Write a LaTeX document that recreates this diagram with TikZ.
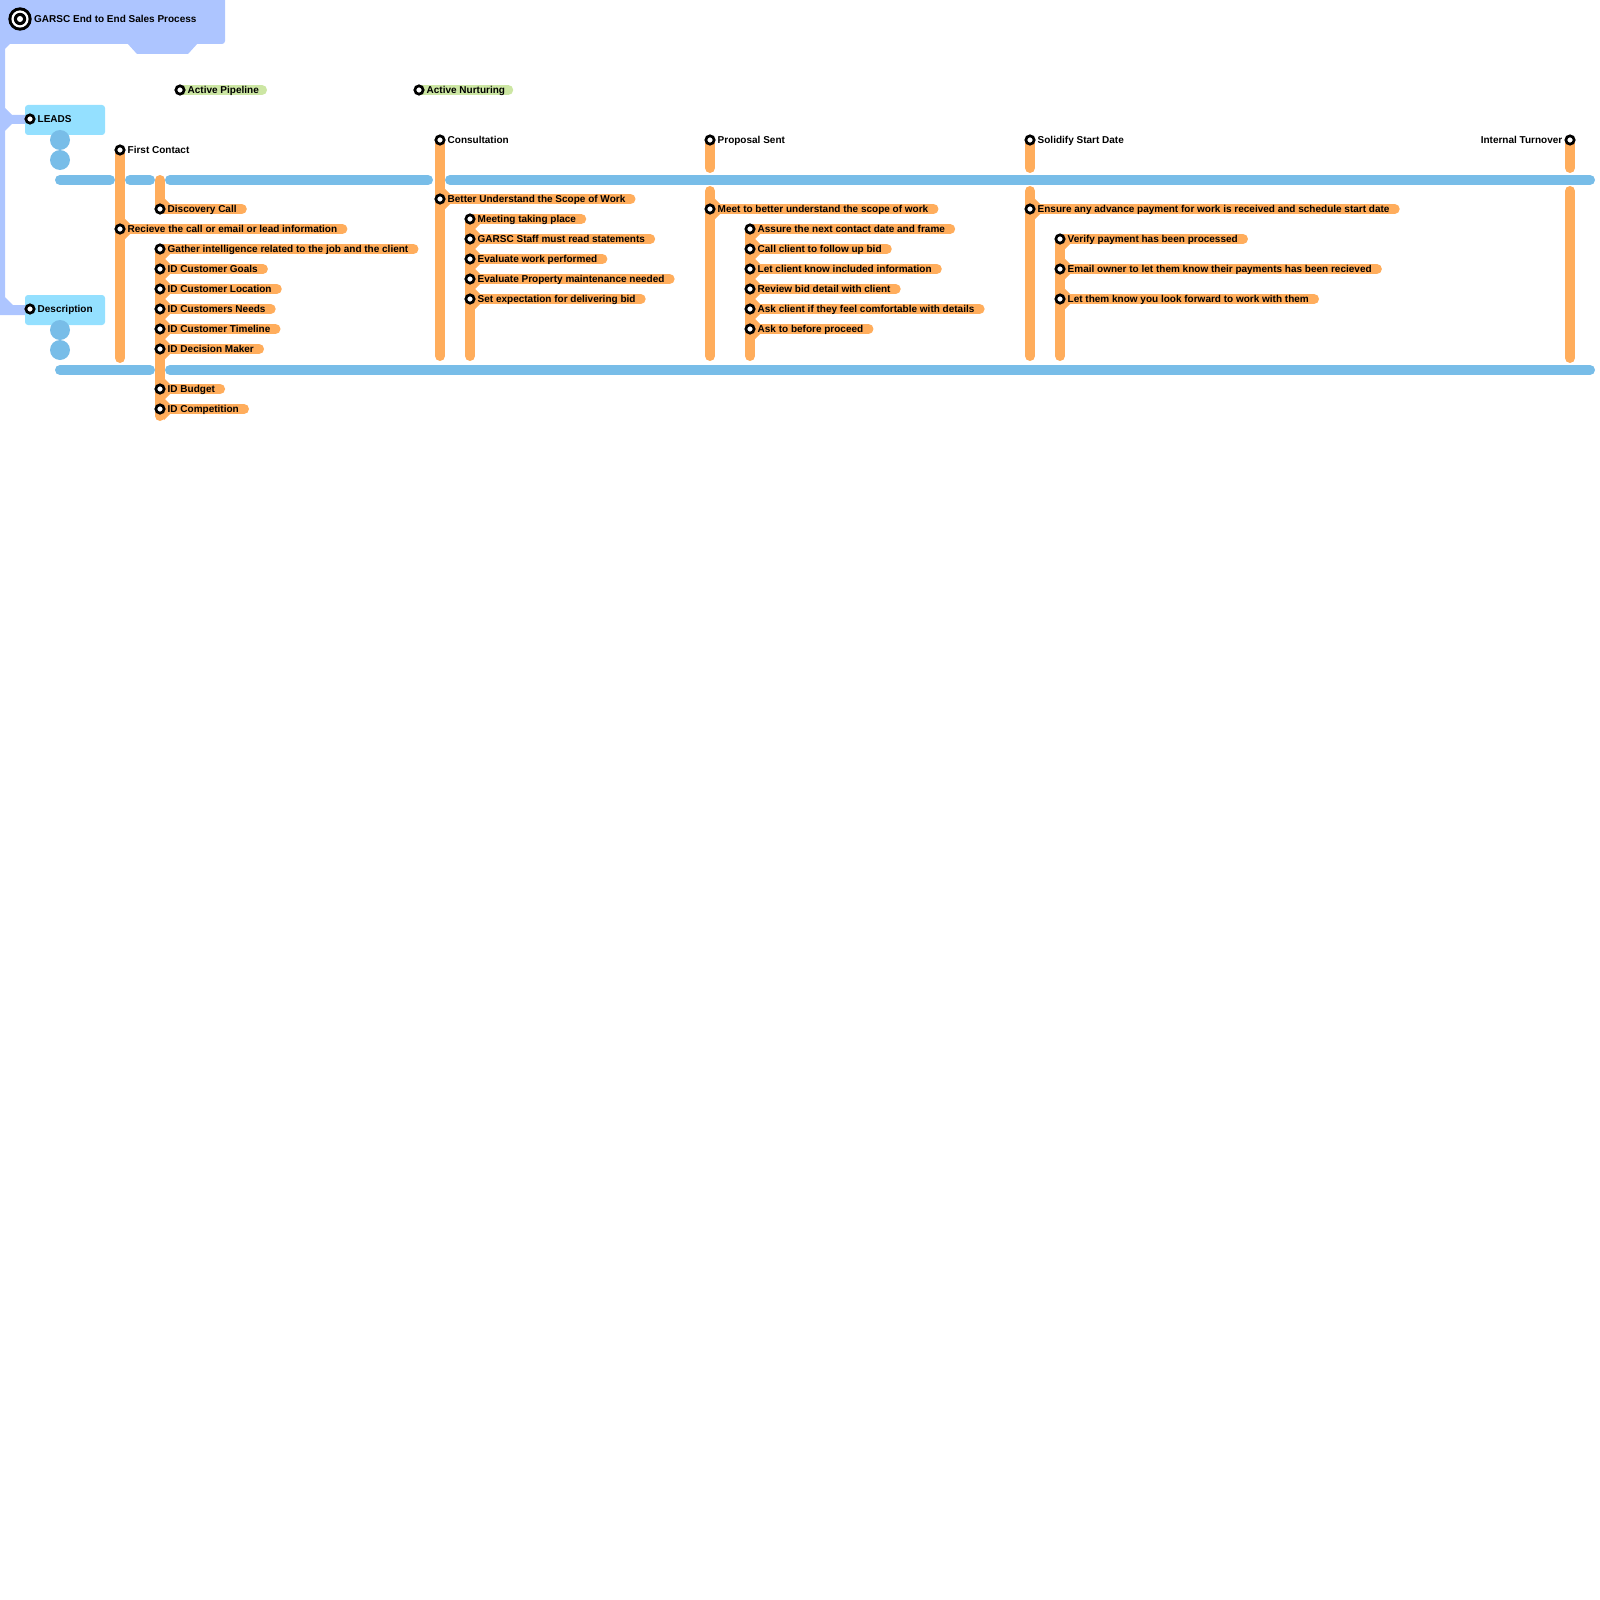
\documentclass[tikz,border=0pt]{standalone}
\usepackage{fontspec}
\setmainfont{Liberation Sans}
\usetikzlibrary{positioning,calc,backgrounds}

\definecolor{garscframe}{RGB}{173,197,255}
\definecolor{garscbox}{RGB}{148,224,255}
\definecolor{garscblue}{RGB}{120,189,232}
\definecolor{garscorange}{RGB}{255,173,92}
\definecolor{garscgreen}{RGB}{204,230,163}

\begin{document}
\begin{tikzpicture}[x=1pt,y=-1pt,
	font=\bfseries\fontsize{10}{12}\selectfont,
	blueline/.style={line width=10pt,line cap=round,garscblue},
	orangeline/.style={line width=10pt,line cap=round,garscorange},
	greenline/.style={line width=10pt,line cap=round,garscgreen},
	station/.style={circle,draw=black,line width=2.7pt,fill=white,minimum size=8.3pt,inner sep=0pt},
	stoplabel/.style={inner sep=0pt,text height=7pt,text depth=0pt},
	areabox/.style={fill=garscbox,rounded corners=3pt,minimum width=80pt,minimum height=30pt,inner sep=0pt},
	bluedot/.style={circle,fill=garscblue,minimum size=20pt,inner sep=0pt}]
	
	\useasboundingbox (0,0) rectangle (1600,1600);
	
	% ======================================================
	% Title frame and left rail
	% ======================================================
	\fill[garscframe,rounded corners=3pt] (-10,-10) rectangle (225,44);
	\fill[garscframe] (127,43) -- (137,54) -- (188,54) -- (198,43) -- cycle;
	\fill[garscframe] (-10,43) -- (11,43) -- (5,49) -- (5,108) -- (12,115) -- (25,115)
	-- (25,124) -- (12,124) -- (5,131) -- (5,297) -- (13,305) -- (25,305)
	-- (25,315) -- (-10,315) -- cycle;
	
	% Target symbol
	\coordinate (target) at (20,19);
	\fill (target) circle (11.7);
	\fill[white] (target) circle (8.6);
	\fill (target) circle (6.2);
	\fill[white] (target) circle (3);
	\node[stoplabel,anchor=west] (title) at (34,19) {GARSC End to End Sales Process};
	
	% LEADS and Description boxes
	\node[areabox] (leadsbox) at (65,120) {};
	\node[areabox] (descbox) at (65,310) {};
	\node[station] (leads) at (30,119) {};
	\node[stoplabel,right=2pt of leads] (leads-l) {LEADS};
	\node[station] (desc) at (30,309) {};
	\node[stoplabel,right=2pt of desc] (desc-l) {Description};
	\foreach \y [count=\i] in {140,160,330,350}
	\node[bluedot] (dot\i) at (60,\y) {};
	
	% ======================================================
	% Stations
	% ======================================================
	\node[station] (pipeline) at (180,90) {};
	\node[stoplabel,right=2pt of pipeline] (pipeline-l) {Active Pipeline};
	\node[station] (nurturing) at (419,90) {};
	\node[stoplabel,right=2pt of nurturing] (nurturing-l) {Active Nurturing};
	
	\foreach \nm/\x/\y/\txt in {contact/120/150/First Contact,
		consultation/440/140/Consultation,
		proposal/710/140/Proposal Sent,
		solidify/1030/140/Solidify Start Date}{
		\node[station] (\nm) at (\x,\y) {};
		\node[stoplabel,right=2pt of \nm] (\nm-l) {\txt};
	}
	\node[station] (turnover) at (1570,140) {};
	\node[stoplabel,left=2pt of turnover] (turnover-l) {Internal Turnover};
	
	% Stops with a label bar
	\foreach \nm/\x/\y/\txt in {
		recieve/120/229/Recieve the call or email or lead information,
		discovery/160/209/Discovery Call,
		gather/160/249/Gather intelligence related to the job and the client,
		goals/160/269/ID Customer Goals,
		location/160/289/ID Customer Location,
		needs/160/309/ID Customers Needs,
		timeline/160/329/ID Customer Timeline,
		decision/160/349/ID Decision Maker,
		budget/160/389/ID Budget,
		competition/160/409/ID Competition,
		scope/440/199/Better Understand the Scope of Work,
		meeting/470/219/Meeting taking place,
		statements/470/239/GARSC Staff must read statements,
		evalwork/470/259/Evaluate work performed,
		evalproperty/470/279/Evaluate Property maintenance needed,
		expectation/470/299/Set expectation for delivering bid,
		meet/710/209/Meet to better understand the scope of work,
		assure/750/229/Assure the next contact date and frame,
		callclient/750/249/Call client to follow up bid,
		letknow/750/269/Let client know included information,
		review/750/289/Review bid detail with client,
		askclient/750/309/Ask client if they feel comfortable with details,
		askproceed/750/329/Ask to before proceed,
		payment/1030/209/Ensure any advance payment for work is received and schedule start date,
		verify/1060/239/Verify payment has been processed,
		email/1060/269/Email owner to let them know their payments has been recieved,
		forward/1060/299/Let them know you look forward to work with them}{
		\node[station] (\nm) at (\x,\y) {};
		\node[stoplabel,right=2pt of \nm] (\nm-l) {\txt};
	}
	
	% ======================================================
	% Lines (behind the stations)
	% ======================================================
	\begin{scope}[on background layer]
		% Blue tracks
		\draw[blueline] (60,180) -- (110,180);
		\draw[blueline] (130,180) -- (150,180);
		\draw[blueline] (170,180) -- (428,180);
		\draw[blueline] (450,180) -- (1590,180);
		\draw[blueline] (60,370) -- (150,370);
		\draw[blueline] (170,370) -- (1590,370);
		
		% Green bars
		\draw[greenline] (pipeline.center) -- ($(pipeline-l.east)+(3,0)$);
		\draw[greenline] (nurturing.center) -- ($(nurturing-l.east)+(3,0)$);
		
		% Orange verticals
		\draw[orangeline] (contact.center) -- (120,358);
		\draw[orangeline] (160,180) -- (discovery.center);
		\draw[orangeline] (gather.center) -- (160,416);
		\draw[orangeline] (consultation.center) -- (440,356);
		\draw[orangeline] (meeting.center) -- (470,356);
		\draw[orangeline] (proposal.center) -- (710,168);
		\draw[orangeline] (710,191) -- (710,356);
		\draw[orangeline] (assure.center) -- (750,356);
		\draw[orangeline] (solidify.center) -- (1030,168);
		\draw[orangeline] (1030,191) -- (1030,356);
		\draw[orangeline] (verify.center) -- (1060,356);
		\draw[orangeline] (turnover.center) -- (1570,168);
		\draw[orangeline] (1570,191) -- (1570,358);
		
		% Label bars
		\foreach \nm in {recieve,discovery,gather,goals,location,needs,timeline,
			decision,budget,competition,scope,meeting,statements,evalwork,
			evalproperty,expectation,meet,assure,callclient,letknow,review,
			askclient,askproceed,payment,verify,email,forward}
		\draw[orangeline] (\nm.center) -- ($(\nm-l.east)+(5,0)$);
		
		% Fillets above the bars
		\foreach \nm in {recieve,discovery,goals,location,needs,timeline,decision,
			budget,competition,scope,statements,evalwork,evalproperty,expectation,
			meet,callclient,letknow,review,askclient,askproceed,payment,email,forward}
		\fill[garscorange] ($(\nm.center)+(4,-4)$) -- ++(0,-7) -- ++(7,7) -- cycle;
		
		% Fillets below the bars
		\foreach \nm in {recieve,gather,goals,location,needs,timeline,decision,
			budget,competition,scope,meeting,statements,evalwork,evalproperty,
			expectation,meet,assure,callclient,letknow,review,askclient,askproceed,
			payment,verify,email,forward}
		\fill[garscorange] ($(\nm.center)+(4,4)$) -- ++(0,7) -- ++(7,-7) -- cycle;
	\end{scope}
	
\end{tikzpicture}
\end{document}
